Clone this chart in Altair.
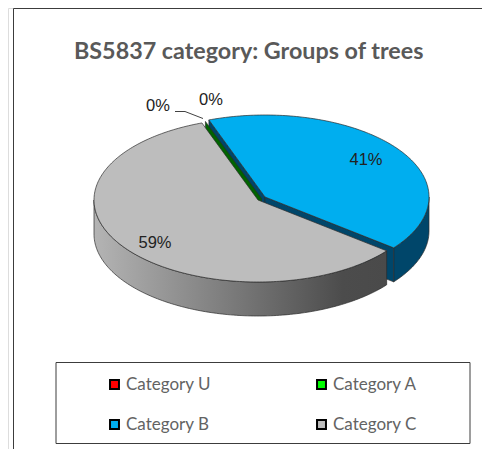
import math
import altair as alt
import pandas as pd

categories = ["Category U", "Category A", "Category B", "Category C"]
shares = [0.0, 0.0, 41.2, 58.8]
percent_labels = ["0%", "0%", "41%", "59%"]
colors = ["#ff0000", "#00ff00", "#00aeef", "#bdbdbd"]

# Pie projection, in page pixels
CX, CY, RX, RY, DEPTH = 258.0, 200.0, 164.0, 82.0, 34.0
BLUE_DX, BLUE_DY = 7.0, -3.0
GREEN_DX, GREEN_DY = 3.5, -1.5
FIRST_ANGLE = -110.0
W, H = 474, 441


def rim(t, dx=0.0, dy=0.0, drop=0.0):
    a = math.radians(t)
    return CX + dx + RX * math.cos(a), CY + dy + RY * math.sin(a) + drop


def arc(a, b, dx=0.0, dy=0.0, drop=0.0):
    n = max(2, int(abs(b - a)) + 1)
    return [rim(a + (b - a) * i / (n - 1), dx, dy, drop) for i in range(n)]


def frame(points, **extra):
    rows = [dict(x=x, y=y, o=i, **extra) for i, (x, y) in enumerate(points + points[:1])]
    return pd.DataFrame(rows)


# slice angles come from the shares
angles = {}
t = FIRST_ANGLE
for c, s in zip(categories, shares):
    angles[c] = (t, t + 360.0 * s / sum(shares))
    t = angles[c][1]

b0, b1 = angles["Category B"]
c0, c1 = angles["Category C"]
a0, _ = angles["Category A"]
bx, by = CX + BLUE_DX, CY + BLUE_DY

X = alt.X("x:Q", scale=alt.Scale(domain=[8, 8 + W], nice=False), axis=None)
Y = alt.Y("y:Q", scale=alt.Scale(domain=[8 + H, 8], nice=False), axis=None)


def poly(df, fill, stroke="#2b2b2b", sw=0.7):
    return alt.Chart(df).mark_line(fill=fill, stroke=stroke, strokeWidth=sw, strokeJoin="round").encode(
        x=X, y=Y, order="o:Q"
    )


def wall_side(t, dx, dy):
    top = [rim(t, dx, dy), (CX + dx, CY + dy)]
    return top + [(CX + dx, CY + dy + DEPTH), rim(t, dx, dy, DEPTH)]


def wall_outer(a, b, dx, dy):
    return arc(a, b, dx, dy) + arc(b, a, dx, dy, DEPTH)


blue_wall = "#00466a"
green_wall = "#006400"
grey_gradient = alt.Gradient(
    gradient="linear",
    x1=0, x2=1, y1=0, y2=0,
    stops=[
        alt.GradientStop(offset=0, color="#b4b4b4"),
        alt.GradientStop(offset=0.85, color="#4c4c4c"),
        alt.GradientStop(offset=1, color="#4a4a4a"),
    ],
)

layers = []

# chart frame (only top and left edges reach the picture)
layers.append(alt.Chart(pd.DataFrame({"x": [13.5, 13.5, 482], "y": [449, 8.5, 8.5], "o": [0, 1, 2]})).mark_line(
    stroke="#3c3c3c", strokeWidth=1).encode(x=X, y=Y, order="o:Q"))

# legend box
layers.append(poly(frame([(56, 362.5), (470, 362.5), (470, 443.5), (56, 443.5)]), "#ffffff", "#3c3c3c", 1))

# walls, back to front
layers.append(poly(frame(wall_side(b0, BLUE_DX, BLUE_DY)), blue_wall))
layers.append(poly(frame(wall_outer(0, b1, BLUE_DX, BLUE_DY)), blue_wall))
layers.append(poly(frame(wall_side(b1, BLUE_DX, BLUE_DY)), blue_wall))
layers.append(poly(frame(wall_side(a0, GREEN_DX, GREEN_DY)), green_wall))
layers.append(poly(frame(wall_outer(c0, 180, 0, 0)), grey_gradient))

# top faces, with the real legend
tops = pd.concat([
    frame(arc(b0, b1, BLUE_DX, BLUE_DY) + [(bx, by)], category="Category B"),
    frame(arc(c0, c1) + [(CX, CY)], category="Category C"),
])
layers.append(alt.Chart(tops).mark_line(stroke="#2b2b2b", strokeWidth=0.7, strokeJoin="round").encode(
    x=X, y=Y, order="o:Q",
    fill=alt.Fill("category:N", scale=alt.Scale(domain=categories, range=colors), legend=alt.Legend(
        title=None, orient="none", legendX=98, legendY=368, columns=2, direction="horizontal", symbolType="square",
        symbolSize=80, symbolStrokeColor="#000000", symbolStrokeWidth=2, symbolOpacity=1,
        labelFont="Lato", labelFontSize=17, labelColor="#636363", labelOffset=3,
        columnPadding=102, rowPadding=22, padding=0, values=categories, gridAlign="all",
    )),
))

# leader line of the left 0%
layers.append(alt.Chart(pd.DataFrame({"x": [175, 185, 203], "y": [111.5, 111.5, 118.5], "o": [0, 1, 2]})).mark_line(
    stroke="#111111", strokeWidth=0.8).encode(x=X, y=Y, order="o:Q"))

# data labels
labels = pd.DataFrame({
    "x": [158, 211, 366, 155],
    "y": [106, 100, 160, 243],
    "t": percent_labels,
})
layers.append(alt.Chart(labels).mark_text(font="Liberation Sans", fontSize=16.5, color="#222222").encode(
    x=X, y=Y, text="t:N"))

chart = alt.layer(*layers).properties(
    width=W, height=H,
    padding=0,
    autosize=alt.AutoSizeParams(type="none"),
    title=alt.TitleParams(
        "BS5837 category: Groups of trees",
        font="Lato", fontSize=23.3, fontWeight="bold", color="#595959",
        anchor="start", frame="group", dx=66, dy=58, offset=0,
    ),
).configure_view(stroke=None).configure(background="#ffffff")

chart.save("out.html", embed_options={"renderer": "svg", "actions": False})
